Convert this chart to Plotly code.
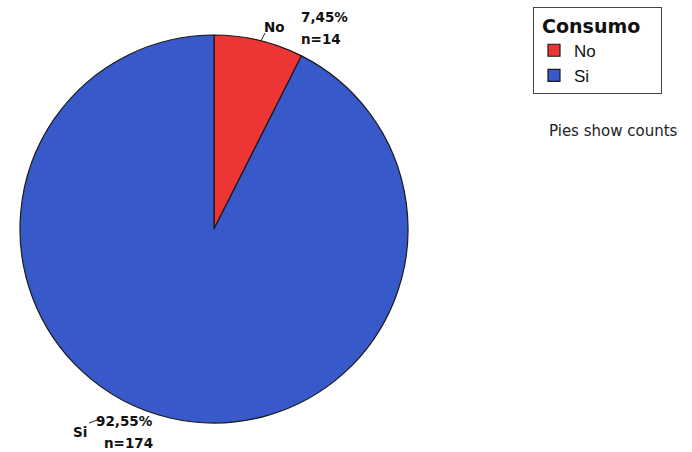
import plotly.graph_objects as go

categories = ["No", "Si"]
counts = [14, 174]
colors = ["#EE3535", "#3759C9"]
legend_title = "Consumo"
note = "Pies show counts"

W, H = 692, 452
total = sum(counts)
pcts = [c / total * 100 for c in counts]

CX, CY, R = 214, 229, 194
fig = go.Figure()
fig.add_trace(go.Pie(
    labels=categories, values=counts, sort=False, direction="clockwise",
    rotation=0, textinfo="none", hoverinfo="label+value+percent",
    marker=dict(colors=colors, line=dict(color="#1a1a1a", width=1.2)),
    domain=dict(x=[(CX - R) / W, (CX + R) / W],
                y=[(H - CY - R) / H, (H - CY + R) / H]),
))

def fmt(p):
    return f"{p:.2f}".replace(".", ",") + "%"

lab_font = dict(family="DejaVu Sans", size=13.5, color="#111111")
anns = [
    dict(x=274, y=27, text=f"<b>{categories[0]}</b>"),
    dict(x=299, y=17, text=f"<b>{fmt(pcts[0])}</b>", xanchor="left"),
    dict(x=299, y=39, text=f"<b>n={counts[0]}</b>", xanchor="left"),
    dict(x=80, y=432, text=f"<b>{categories[1]}</b>"),
    dict(x=94, y=421, text=f"<b>{fmt(pcts[1])}</b>", xanchor="left"),
    dict(x=102, y=443, text=f"<b>n={counts[1]}</b>", xanchor="left"),
    dict(x=547, y=131, text=note, xanchor="left",
         font=dict(family="DejaVu Sans", size=15, color="#222222")),
]
annotations = []
for a in anns:
    d = dict(xref="paper", yref="paper", showarrow=False, xanchor="center",
             yanchor="middle", font=lab_font)
    d.update(a)
    d["x"] = d["x"] / W
    d["y"] = 1 - d["y"] / H
    annotations.append(d)

def seg(x0, y0, x1, y1):
    return dict(type="line", xref="paper", yref="paper", x0=x0 / W, y0=1 - y0 / H,
                x1=x1 / W, y1=1 - y1 / H, line=dict(color="#222", width=1))

shapes = [seg(261, 41, 265, 33), seg(89, 423, 100, 419)]

fig.update_layout(
    width=W, height=H, margin=dict(l=0, r=0, t=0, b=0),
    paper_bgcolor="white", plot_bgcolor="white",
    showlegend=True,
    legend=dict(
        x=533 / W, y=1 - 7 / H, xanchor="left", yanchor="top",
        bordercolor="#444444", borderwidth=1, bgcolor="white",
        title=dict(text="&nbsp;<b>" + legend_title + "</b>&nbsp;&nbsp;&nbsp;",
                   font=dict(family="DejaVu Sans", size=19, color="#111")),
        font=dict(family="Arial", size=17, color="#111"),
        itemwidth=30, tracegroupgap=0,
    ),
    annotations=annotations, shapes=shapes,
)

fig.write_html("out.html")
